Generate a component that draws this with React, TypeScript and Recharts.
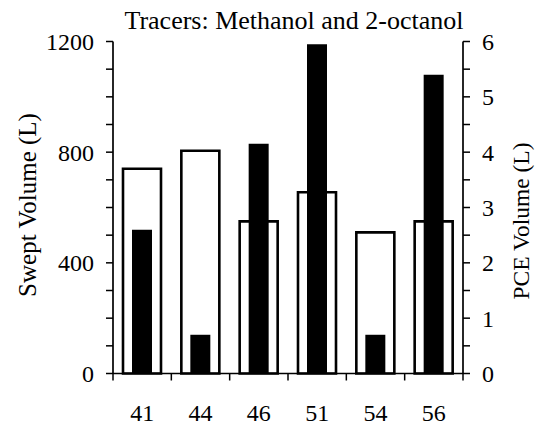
import React from 'react';
import { BarChart, Bar, XAxis, YAxis } from 'recharts';

// well numbers along the bottom
const wells = ['41', '44', '46', '51', '54', '56'];
// swept volume (L), left axis - open bars
const sweptVolume = [740, 805, 550, 655, 510, 550];
// PCE volume (L), right axis - solid bars
const pceVolume = [2.6, 0.7, 4.15, 5.95, 0.7, 5.4];

const leftTicks = [0, 100, 200, 300, 400, 500, 600, 700, 800, 900, 1000, 1100, 1200];
const leftLabels = [0, 400, 800, 1200];
const rightTicks = [0, 0.5, 1, 1.5, 2, 2.5, 3, 3.5, 4, 4.5, 5, 5.5, 6];
const rightLabels = [0, 1, 2, 3, 4, 5, 6];

const W = 538;
const H = 429;
const TOP = 41.5;
const LEFT_W = 113;
const RIGHT_W = 75;
const X_H = 55.5;
const PLOT_W = W - LEFT_W - RIGHT_W;
const AXIS_Y = H - X_H;
const FONT = '"Liberation Serif", "Times New Roman", serif';

const data = wells.map((w, i) => ({ well: w, swept: sweptVolume[i], pce: pceVolume[i] }));

const XTick = (props: any) => {
  const { x, payload, index } = props;
  const bw = PLOT_W / wells.length;
  const last = index === wells.length - 1;
  return (
    <g>
      <line x1={x - bw / 2} y1={AXIS_Y} x2={x - bw / 2} y2={AXIS_Y + 7} stroke="#000" strokeWidth={1.5} />
      {last && (
        <line x1={x + bw / 2} y1={AXIS_Y} x2={x + bw / 2} y2={AXIS_Y + 7} stroke="#000" strokeWidth={1.5} />
      )}
      <text x={x} y={AXIS_Y + 47} textAnchor="middle" fontSize={24} fontFamily={FONT} fill="#000">
        {payload.value}
      </text>
    </g>
  );
};

export default function App() {
  const axisLine = { stroke: '#000', strokeWidth: 1.7 };
  const tickLine = { stroke: '#000', strokeWidth: 1.5 };
  const tickStyle = { fill: '#000', fontSize: 24, fontFamily: FONT };

  return (
    <div style={{ position: 'absolute', left: 0, top: 0, width: W, height: H, background: '#fff' }}>
      <BarChart width={W} height={H} data={data} margin={{ top: TOP, right: 0, bottom: 0, left: 0 }}>
        <XAxis
          xAxisId="a"
          dataKey="well"
          height={X_H}
          axisLine={axisLine}
          tickLine={false}
          tick={<XTick />}
          interval={0}
        />
        <XAxis xAxisId="b" dataKey="well" hide />
        <YAxis
          yAxisId="left"
          orientation="left"
          width={LEFT_W}
          domain={[0, 1200]}
          ticks={leftTicks}
          interval={0}
          tickFormatter={(v: number) => (leftLabels.includes(v) ? String(v) : '')}
          axisLine={axisLine}
          tickLine={tickLine}
          tickSize={7}
          tickMargin={12}
          tick={tickStyle}
        />
        <YAxis
          yAxisId="right"
          orientation="right"
          width={RIGHT_W}
          domain={[0, 6]}
          ticks={rightTicks}
          interval={0}
          tickFormatter={(v: number) => (rightLabels.includes(v) ? String(v) : '')}
          axisLine={axisLine}
          tickLine={tickLine}
          tickSize={7}
          tickMargin={12}
          tick={tickStyle}
        />
        <Bar
          xAxisId="a"
          yAxisId="left"
          dataKey="swept"
          barSize={38}
          fill="#fff"
          stroke="#000"
          strokeWidth={2.6}
          isAnimationActive={false}
        />
        <Bar
          xAxisId="b"
          yAxisId="right"
          dataKey="pce"
          barSize={20}
          fill="#000"
          isAnimationActive={false}
        />
      </BarChart>
      <svg width={W} height={H} style={{ position: 'absolute', left: 0, top: 0, pointerEvents: 'none' }}>
        <text x={294} y={29} textAnchor="middle" fontSize={26} fontFamily={FONT} fill="#000">
          Tracers: Methanol and 2-octanol
        </text>
        <text
          x={36}
          y={205}
          transform="rotate(-90 36 205)"
          textAnchor="middle"
          fontSize={25}
          fontFamily={FONT}
          fill="#000"
        >
          Swept Volume (L)
        </text>
        <text
          x={529}
          y={221}
          transform="rotate(-90 529 221)"
          textAnchor="middle"
          fontSize={23.5}
          fontFamily={FONT}
          fill="#000"
        >
          PCE Volume (L)
        </text>
      </svg>
    </div>
  );
}
